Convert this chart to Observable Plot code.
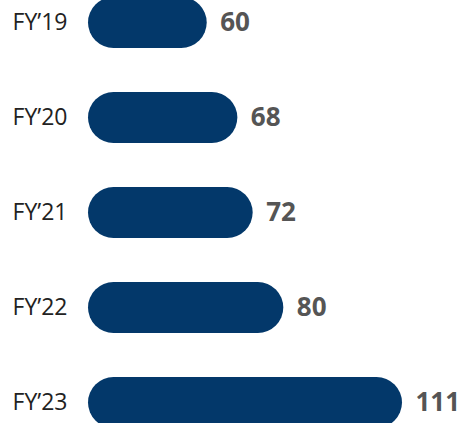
<!DOCTYPE html>
<html>
<head>
<meta charset="utf-8">
<script src="https://cdn.jsdelivr.net/npm/d3@7"></script>
<script src="https://cdn.jsdelivr.net/npm/@observablehq/plot@0.6"></script>
<style>
  html, body { margin: 0; padding: 0; background: #fff; }
</style>
</head>
<body>
<div id="chart"></div>
<script>
const categories = ["FY’19", "FY’20", "FY’21", "FY’22", "FY’23"];
const values = [60, 68, 72, 80, 111];

const data = categories.map((c, i) => ({ year: c, value: values[i] }));

const chart = Plot.plot({
  width: 462,
  height: 423,
  marginLeft: 88,
  marginRight: 60,
  marginTop: 0,
  marginBottom: 0,
  style: { fontFamily: "'Open Sans', sans-serif", background: "#fff", overflow: "hidden" },
  x: { domain: [29, 111], axis: null },
  y: { domain: categories, range: [-4, 428], paddingInner: 0.464, paddingOuter: 0, label: null },
  marks: [
    Plot.axisY({ tickSize: 0, tickPadding: 21, fontSize: 23, fill: "#222222", label: null }),
    Plot.barX(data, { x1: 29, x2: "value", y: "year", fill: "#03386a", rx: 25.5 }),
    Plot.text(data, {
      x: "value", y: "year", text: d => String(d.value),
      dx: 13, textAnchor: "start", fontSize: 26, fontWeight: "bold", fill: "#555555"
    })
  ]
});
document.getElementById("chart").appendChild(chart);
</script>
</body>
</html>
